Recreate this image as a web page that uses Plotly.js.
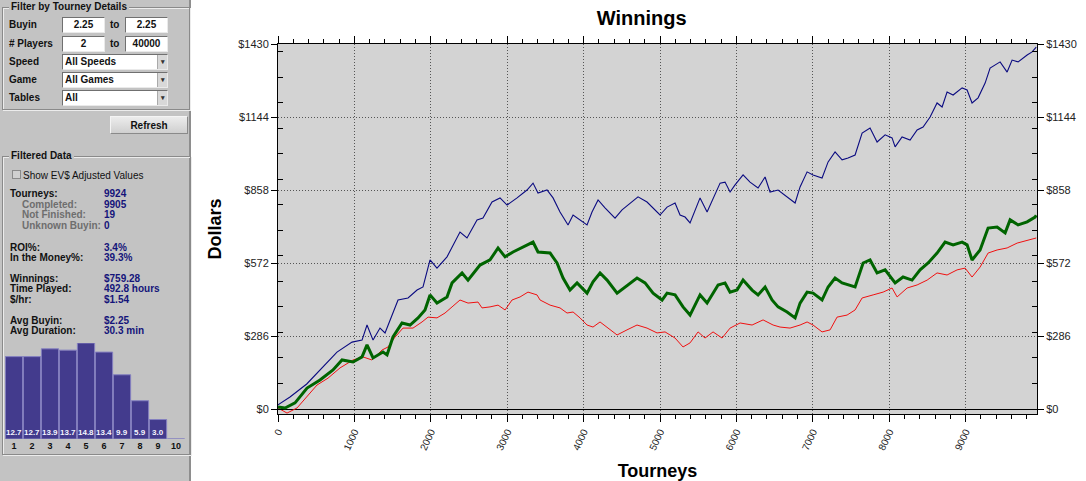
<!DOCTYPE html>
<html><head><meta charset="utf-8">
<script src="https://cdn.plot.ly/plotly-3.0.1.min.js"></script>
<style>
body{margin:0;width:1086px;height:481px;overflow:hidden;background:#fff;font-family:'Liberation Sans',Arial,sans-serif;}
#side{position:absolute;left:0;top:0;width:189px;height:481px;background:#c3c3c3;border-right:2px solid #8e8e8e;}
.fs{position:absolute;border:1px solid #8a8a8a;box-shadow:inset 1px 1px 0 #ececec, 1px 1px 0 #ececec;}
.lg{position:absolute;top:-7px;left:6px;background:#c3c3c3;padding:0 2px;font-weight:bold;font-size:10px;line-height:12px;color:#111;white-space:nowrap;}
.t{position:absolute;font-size:10px;font-weight:bold;color:#111;white-space:nowrap;line-height:11px;}
.v{color:#14147a;}
.g{color:#6e6e6e;}
.n{font-weight:normal;}
.box{position:absolute;background:#fff;border:1px solid;border-color:#707070 #eaeaea #eaeaea #707070;height:14px;font-size:10px;font-weight:bold;line-height:14px;text-align:center;color:#111;}
.sel{text-align:left;padding-left:2px;}
.arr{position:absolute;right:0;top:0;width:9px;height:14px;background:#d8d8d8;border-left:1px solid #aaa;font-size:7px;line-height:14px;text-align:center;color:#333;}
#btn{position:absolute;left:110px;top:116px;width:78px;height:18px;background:linear-gradient(#ececec,#cfcfcf);border:1px solid;border-color:#f4f4f4 #8a8a8a #8a8a8a #f4f4f4;font-size:10px;font-weight:bold;line-height:18px;text-align:center;color:#111;box-sizing:border-box;}
#chk{position:absolute;left:12px;top:170px;width:7px;height:7px;border:1px solid #8a8a8a;background:#d0d0d0;}
#hist{position:absolute;left:5px;top:335px;width:180px;height:120px;}
#chart{position:absolute;left:192px;top:0;width:894px;height:481px;}
</style></head>
<body>
<div id="side">
  <div class="fs" style="left:2px;top:7px;width:186px;height:101px;"><span class="lg">Filter by Tourney Details</span></div>
  <div class="t" style="left:9px;top:19px;">Buyin</div>
  <div class="box" style="left:62px;top:17px;width:41px;">2.25</div>
  <div class="t" style="left:110px;top:19px;">to</div>
  <div class="box" style="left:125px;top:17px;width:41px;">2.25</div>
  <div class="t" style="left:9px;top:38px;"># Players</div>
  <div class="box" style="left:62px;top:36px;width:41px;">2</div>
  <div class="t" style="left:110px;top:38px;">to</div>
  <div class="box" style="left:125px;top:36px;width:41px;">40000</div>
  <div class="t" style="left:9px;top:56px;">Speed</div>
  <div class="box sel" style="left:62px;top:54px;width:102px;">All Speeds<span class="arr">&#9662;</span></div>
  <div class="t" style="left:9px;top:74px;">Game</div>
  <div class="box sel" style="left:62px;top:72px;width:102px;">All Games<span class="arr">&#9662;</span></div>
  <div class="t" style="left:9px;top:92px;">Tables</div>
  <div class="box sel" style="left:62px;top:90px;width:102px;">All<span class="arr">&#9662;</span></div>
  <div id="btn">Refresh</div>

  <div class="fs" style="left:2px;top:156px;width:187px;height:297px;"><span class="lg">Filtered Data</span></div>
  <div id="chk"></div>
  <div class="t n" style="left:23px;top:170px;">Show EV$ Adjusted Values</div>
  <div class="t" style="left:10px;top:188px;">Tourneys:</div><div class="t v" style="left:104px;top:188px;">9924</div>
  <div class="t g" style="left:22px;top:199px;">Completed:</div><div class="t v" style="left:104px;top:199px;">9905</div>
  <div class="t g" style="left:22px;top:209px;">Not Finished:</div><div class="t v" style="left:104px;top:209px;">19</div>
  <div class="t g" style="left:22px;top:220px;">Unknown Buyin:</div><div class="t v" style="left:104px;top:220px;">0</div>
  <div class="t" style="left:10px;top:242px;">ROI%:</div><div class="t v" style="left:104px;top:242px;">3.4%</div>
  <div class="t" style="left:10px;top:252px;">In the Money%:</div><div class="t v" style="left:104px;top:252px;">39.3%</div>
  <div class="t" style="left:10px;top:273px;">Winnings:</div><div class="t v" style="left:104px;top:273px;">$759.28</div>
  <div class="t" style="left:10px;top:283px;">Time Played:</div><div class="t v" style="left:104px;top:283px;">492.8 hours</div>
  <div class="t" style="left:10px;top:294px;">$/hr:</div><div class="t v" style="left:104px;top:294px;">$1.54</div>
  <div class="t" style="left:10px;top:315px;">Avg Buyin:</div><div class="t v" style="left:104px;top:315px;">$2.25</div>
  <div class="t" style="left:10px;top:325px;">Avg Duration:</div><div class="t v" style="left:104px;top:325px;">30.3 min</div>
  <div id="hist"></div>
</div>
<div id="chart"></div>
<script>
// ---- histogram data ----
const histCats = ['1','2','3','4','5','6','7','8','9','10'];
const histVals = [12.7, 12.7, 13.9, 13.7, 14.8, 13.4, 9.9, 5.9, 3.0, 0];

// ---- y tick labels ----
const yTickVals = [0, 286, 572, 858, 1144, 1430];
const yTickText = ['$0', '$286', '$572', '$858', '$1144', '$1430'];

// ---- blue series ----
const blueX = [0,157,376,589,772,969,1100,1165,1244,1335,1401,1571,1702,1820,1898,1990,2081,2212,2291,2382,2474,2605,2683,2801,2906,2998,3129,3259,3338,3403,3521,3600,3691,3796,3862,3953,4045,4110,4189,4280,4411,4503,4608,4712,4830,4935,5000,5092,5197,5262,5328,5393,5459,5524,5616,5694,5786,5851,5917,5982,6087,6178,6283,6375,6440,6545,6663,6768,6833,6925,7003,7121,7200,7291,7383,7461,7553,7645,7749,7841,7946,8037,8077,8168,8273,8365,8443,8535,8626,8692,8757,8836,8954,9019,9084,9163,9255,9320,9451,9543,9608,9687,9805,9870,9924];
const blueY = [16,47,98,165,223,262,270,329,270,317,298,427,435,466,478,584,552,596,643,693,670,741,748,811,827,799,827,858,885,846,858,827,772,721,760,741,721,772,819,788,748,780,807,831,811,780,760,791,807,760,752,729,780,827,772,827,885,889,850,878,917,889,866,909,850,858,831,807,870,929,917,905,968,1007,976,983,995,1081,1101,1046,1074,1062,1027,1066,1054,1093,1105,1144,1199,1183,1242,1230,1258,1250,1199,1219,1277,1336,1360,1320,1367,1360,1387,1399,1418];

// ---- green series ----
const greenX = [0,92,223,380,550,720,838,982,1100,1165,1244,1374,1427,1505,1623,1728,1833,1924,1990,2081,2212,2278,2409,2487,2644,2775,2880,2972,3076,3207,3338,3403,3561,3652,3731,3822,3914,4045,4123,4215,4307,4438,4542,4699,4804,4909,5027,5092,5197,5301,5393,5524,5616,5760,5851,5917,6008,6087,6205,6283,6375,6466,6545,6663,6768,6833,6925,7003,7121,7200,7291,7383,7553,7658,7749,7841,7946,8077,8181,8299,8404,8509,8626,8731,8836,8954,9019,9084,9189,9294,9412,9517,9582,9687,9805,9909,9924];
const greenY = [8,4,24,82,114,153,192,184,204,251,200,223,212,282,337,329,357,388,447,415,439,494,533,505,564,584,631,596,615,635,654,615,611,572,513,466,494,454,498,533,505,454,478,513,494,454,427,454,447,400,368,447,415,486,494,458,466,505,466,447,478,427,400,380,357,415,458,454,427,478,513,494,478,572,584,533,545,494,517,505,545,572,611,654,643,654,643,584,623,709,713,690,741,721,733,752,759];

// ---- red series ----
const redX = [0,118,249,380,511,655,812,982,1113,1230,1361,1440,1532,1636,1767,1885,1964,2081,2186,2278,2382,2487,2618,2670,2775,2880,2972,3063,3168,3272,3390,3430,3561,3691,3783,3862,3953,4045,4123,4215,4320,4438,4568,4699,4830,4961,5066,5197,5301,5393,5498,5589,5694,5812,5917,6048,6205,6349,6480,6571,6702,6833,6925,7003,7121,7226,7317,7448,7553,7645,7789,7920,8037,8103,8234,8365,8496,8626,8757,8888,8993,9084,9189,9294,9412,9543,9674,9805,9924];
const redY = [4,-16,4,47,94,121,161,192,204,192,231,243,282,317,317,341,360,357,376,400,427,415,419,396,400,407,388,427,439,458,447,427,407,396,376,380,357,329,321,341,317,290,310,329,317,298,302,278,243,259,302,278,302,278,317,337,329,349,329,321,317,329,341,329,302,310,360,368,388,435,447,458,474,439,474,486,505,533,525,545,552,517,556,611,623,631,650,662,670];

const FONT = 'Liberation Sans, Arial, sans-serif';

// ---- histogram ----
Plotly.newPlot('hist', [{
  type: 'bar', x: histCats, y: histVals,
  marker: {color: '#433b8d', line: {color: '#8580c0', width: 1}},
  hoverinfo: 'none'
}], {
  width: 180, height: 120,
  margin: {l: 0, r: 0, t: 8, b: 16},
  paper_bgcolor: 'rgba(0,0,0,0)', plot_bgcolor: 'rgba(0,0,0,0)',
  bargap: 0.04, showlegend: false,
  xaxis: {type: 'category', range: [-0.5, 9.5], showgrid: false, zeroline: false, showline: false, ticks: '',
          tickfont: {family: FONT, size: 9, color: '#111', weight: 700}},
  yaxis: {range: [0, 14.8], visible: false},
  annotations: histVals.map((v, i) => v > 0 ? {
    x: i, y: 0, xref: 'x', yref: 'y', yanchor: 'bottom', showarrow: false,
    text: v.toFixed(1), font: {family: FONT, size: 8, color: '#f4f4ff', weight: 700}
  } : null).filter(a => a)
}, {staticPlot: true});

// ---- main chart ----
const axisCommon = {
  showline: true, linecolor: '#000', linewidth: 1,
  ticks: 'outside', tickcolor: '#000', tickwidth: 1,
  tickfont: {family: FONT, size: 11, color: '#222'}
};
Plotly.newPlot('chart', [
  {type: 'scatter', mode: 'lines', x: redX, y: redY, line: {color: '#f01010', width: 1}, hoverinfo: 'none'},
  {type: 'scatter', mode: 'lines', x: greenX, y: greenY, line: {color: '#006400', width: 3}, hoverinfo: 'none'},
  {type: 'scatter', mode: 'lines', x: blueX, y: blueY, line: {color: '#0a0a80', width: 1.1}, hoverinfo: 'none'},
  {type: 'scatter', mode: 'lines', x: [], y: [], yaxis: 'y2', hoverinfo: 'none'}
], {
  width: 894, height: 481,
  margin: {l: 86, r: 49, t: 44, b: 67},
  paper_bgcolor: '#fff', plot_bgcolor: '#d3d3d3',
  showlegend: false,
  font: {family: FONT},
  title: {text: 'Winnings', font: {family: FONT, size: 20, color: '#000', weight: 700},
          x: 0.503, xref: 'container', xanchor: 'center', y: 0.962, yref: 'container', yanchor: 'middle'},
  xaxis: Object.assign({}, axisCommon, {
    range: [0, 9934], tick0: 0, dtick: 1000, ticklen: 7, tickangle: -65,
    exponentformat: 'none', separatethousands: false,
    tickfont: {family: FONT, size: 10, color: '#222'},
    mirror: 'ticks', zeroline: false,
    showgrid: true, gridcolor: '#555', griddash: '1px,2px', gridwidth: 1,
    minor: {tick0: 0, dtick: 200, ticks: 'outside', ticklen: 4, tickcolor: '#000', showgrid: false},
    title: {text: 'Tourneys', font: {family: FONT, size: 18, color: '#000', weight: 700}, standoff: 18}
  }),
  yaxis: Object.assign({}, axisCommon, {
    range: [-19.6, 1430], tickmode: 'array', tickvals: yTickVals, ticktext: yTickText, ticklen: 6,
    zeroline: true, zerolinecolor: '#000', zerolinewidth: 1,
    showgrid: true, gridcolor: '#555', griddash: '1px,2px', gridwidth: 1,
    minor: {tickmode: 'linear', tick0: 0, dtick: 100, ticks: 'inside', ticklen: 5, tickcolor: '#000', showgrid: false},
    title: {text: 'Dollars', font: {family: FONT, size: 18, color: '#000', weight: 700}, standoff: 11}
  }),
  yaxis2: Object.assign({}, axisCommon, {
    overlaying: 'y', side: 'right',
    range: [-19.6, 1430], tickmode: 'array', tickvals: yTickVals, ticktext: yTickText, ticklen: 6,
    showgrid: false, zeroline: false,
    minor: {tickmode: 'linear', tick0: 0, dtick: 100, ticks: 'inside', ticklen: 5, tickcolor: '#000', showgrid: false}
  })
}, {staticPlot: true});
</script>
</body></html>
